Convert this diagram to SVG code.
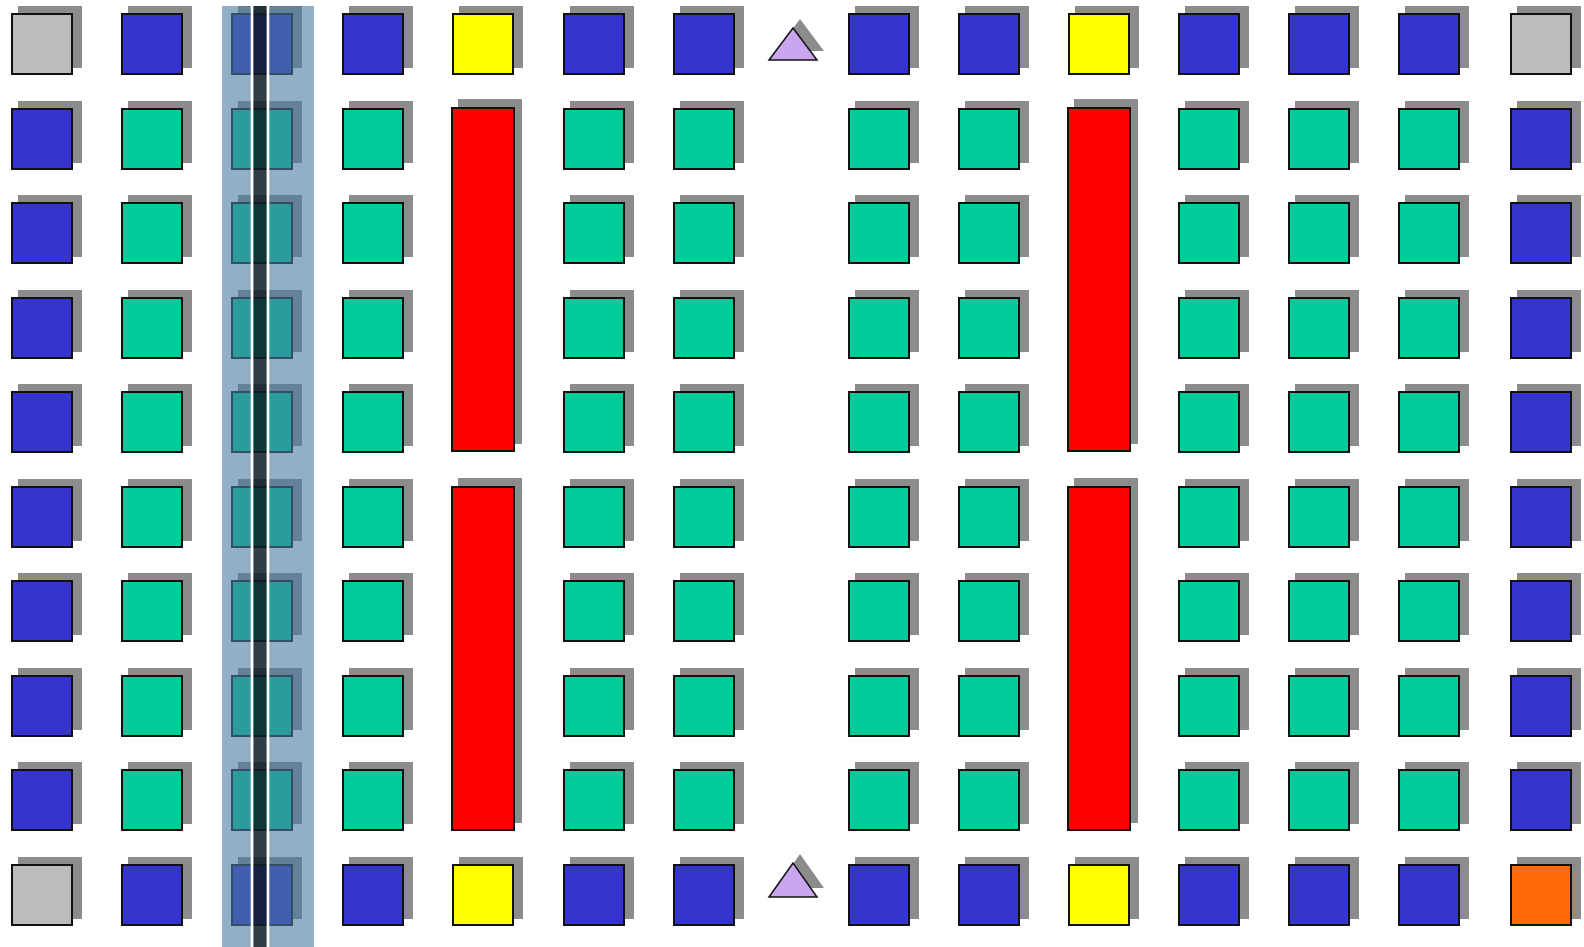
<svg xmlns="http://www.w3.org/2000/svg" xmlns:xlink="http://www.w3.org/1999/xlink" width="1584" height="947" viewBox="0 0 1584 947">
<style>
.gy{fill:#bcbcbc}.bl{fill:#3535cc}.gr{fill:#00cc99}.ye{fill:#ffff00}.rd{fill:#ff0000}.or{fill:#ff6a0a}
.shd{fill:#8c8c8c}
.tri{fill:#c9a6ef;stroke:#111;stroke-width:1.5;stroke-linejoin:miter}
</style>
<defs>
<rect id="sh" x="7" y="-7" width="64" height="62" fill="#8c8c8c"/>
<rect id="sq" x="1" y="1" width="60" height="60" stroke="#111" stroke-width="2"/>
<rect id="tsh" x="7" y="-8" width="64" height="345" fill="#8c8c8c"/>
<rect id="tall" x="1" y="1" width="62" height="343" stroke="#111" stroke-width="2"/>
</defs>
<rect width="1584" height="947" fill="#ffffff"/>
<g id="connectors"></g>
<!-- column 0 -->
<g id="c0r0" transform="translate(11,13)"><use href="#sh"/><use href="#sq" class="gy"/></g>
<g id="c0r1" transform="translate(11,108)"><use href="#sh"/><use href="#sq" class="bl"/></g>
<g id="c0r2" transform="translate(11,202)"><use href="#sh"/><use href="#sq" class="bl"/></g>
<g id="c0r3" transform="translate(11,297)"><use href="#sh"/><use href="#sq" class="bl"/></g>
<g id="c0r4" transform="translate(11,391)"><use href="#sh"/><use href="#sq" class="bl"/></g>
<g id="c0r5" transform="translate(11,486)"><use href="#sh"/><use href="#sq" class="bl"/></g>
<g id="c0r6" transform="translate(11,580)"><use href="#sh"/><use href="#sq" class="bl"/></g>
<g id="c0r7" transform="translate(11,675)"><use href="#sh"/><use href="#sq" class="bl"/></g>
<g id="c0r8" transform="translate(11,769)"><use href="#sh"/><use href="#sq" class="bl"/></g>
<g id="c0r9" transform="translate(11,864)"><use href="#sh"/><use href="#sq" class="gy"/></g>
<!-- column 1 -->
<g id="c1r0" transform="translate(121,13)"><use href="#sh"/><use href="#sq" class="bl"/></g>
<g id="c1r1" transform="translate(121,108)"><use href="#sh"/><use href="#sq" class="gr"/></g>
<g id="c1r2" transform="translate(121,202)"><use href="#sh"/><use href="#sq" class="gr"/></g>
<g id="c1r3" transform="translate(121,297)"><use href="#sh"/><use href="#sq" class="gr"/></g>
<g id="c1r4" transform="translate(121,391)"><use href="#sh"/><use href="#sq" class="gr"/></g>
<g id="c1r5" transform="translate(121,486)"><use href="#sh"/><use href="#sq" class="gr"/></g>
<g id="c1r6" transform="translate(121,580)"><use href="#sh"/><use href="#sq" class="gr"/></g>
<g id="c1r7" transform="translate(121,675)"><use href="#sh"/><use href="#sq" class="gr"/></g>
<g id="c1r8" transform="translate(121,769)"><use href="#sh"/><use href="#sq" class="gr"/></g>
<g id="c1r9" transform="translate(121,864)"><use href="#sh"/><use href="#sq" class="bl"/></g>
<!-- column 2 -->
<g id="c2r0" transform="translate(231,13)"><use href="#sh"/><use href="#sq" class="bl"/></g>
<g id="c2r1" transform="translate(231,108)"><use href="#sh"/><use href="#sq" class="gr"/></g>
<g id="c2r2" transform="translate(231,202)"><use href="#sh"/><use href="#sq" class="gr"/></g>
<g id="c2r3" transform="translate(231,297)"><use href="#sh"/><use href="#sq" class="gr"/></g>
<g id="c2r4" transform="translate(231,391)"><use href="#sh"/><use href="#sq" class="gr"/></g>
<g id="c2r5" transform="translate(231,486)"><use href="#sh"/><use href="#sq" class="gr"/></g>
<g id="c2r6" transform="translate(231,580)"><use href="#sh"/><use href="#sq" class="gr"/></g>
<g id="c2r7" transform="translate(231,675)"><use href="#sh"/><use href="#sq" class="gr"/></g>
<g id="c2r8" transform="translate(231,769)"><use href="#sh"/><use href="#sq" class="gr"/></g>
<g id="c2r9" transform="translate(231,864)"><use href="#sh"/><use href="#sq" class="bl"/></g>
<!-- column 3 -->
<g id="c3r0" transform="translate(342,13)"><use href="#sh"/><use href="#sq" class="bl"/></g>
<g id="c3r1" transform="translate(342,108)"><use href="#sh"/><use href="#sq" class="gr"/></g>
<g id="c3r2" transform="translate(342,202)"><use href="#sh"/><use href="#sq" class="gr"/></g>
<g id="c3r3" transform="translate(342,297)"><use href="#sh"/><use href="#sq" class="gr"/></g>
<g id="c3r4" transform="translate(342,391)"><use href="#sh"/><use href="#sq" class="gr"/></g>
<g id="c3r5" transform="translate(342,486)"><use href="#sh"/><use href="#sq" class="gr"/></g>
<g id="c3r6" transform="translate(342,580)"><use href="#sh"/><use href="#sq" class="gr"/></g>
<g id="c3r7" transform="translate(342,675)"><use href="#sh"/><use href="#sq" class="gr"/></g>
<g id="c3r8" transform="translate(342,769)"><use href="#sh"/><use href="#sq" class="gr"/></g>
<g id="c3r9" transform="translate(342,864)"><use href="#sh"/><use href="#sq" class="bl"/></g>
<!-- column 4 -->
<g id="c4r0" transform="translate(452,13)"><use href="#sh"/><use href="#sq" class="ye"/></g>
<g id="c4top" transform="translate(451,107)"><use href="#tsh"/><use href="#tall" class="rd"/></g>
<g id="c4bot" transform="translate(451,486)"><use href="#tsh"/><use href="#tall" class="rd"/></g>
<g id="c4r9" transform="translate(452,864)"><use href="#sh"/><use href="#sq" class="ye"/></g>
<!-- column 5 -->
<g id="c5r0" transform="translate(563,13)"><use href="#sh"/><use href="#sq" class="bl"/></g>
<g id="c5r1" transform="translate(563,108)"><use href="#sh"/><use href="#sq" class="gr"/></g>
<g id="c5r2" transform="translate(563,202)"><use href="#sh"/><use href="#sq" class="gr"/></g>
<g id="c5r3" transform="translate(563,297)"><use href="#sh"/><use href="#sq" class="gr"/></g>
<g id="c5r4" transform="translate(563,391)"><use href="#sh"/><use href="#sq" class="gr"/></g>
<g id="c5r5" transform="translate(563,486)"><use href="#sh"/><use href="#sq" class="gr"/></g>
<g id="c5r6" transform="translate(563,580)"><use href="#sh"/><use href="#sq" class="gr"/></g>
<g id="c5r7" transform="translate(563,675)"><use href="#sh"/><use href="#sq" class="gr"/></g>
<g id="c5r8" transform="translate(563,769)"><use href="#sh"/><use href="#sq" class="gr"/></g>
<g id="c5r9" transform="translate(563,864)"><use href="#sh"/><use href="#sq" class="bl"/></g>
<!-- column 6 -->
<g id="c6r0" transform="translate(673,13)"><use href="#sh"/><use href="#sq" class="bl"/></g>
<g id="c6r1" transform="translate(673,108)"><use href="#sh"/><use href="#sq" class="gr"/></g>
<g id="c6r2" transform="translate(673,202)"><use href="#sh"/><use href="#sq" class="gr"/></g>
<g id="c6r3" transform="translate(673,297)"><use href="#sh"/><use href="#sq" class="gr"/></g>
<g id="c6r4" transform="translate(673,391)"><use href="#sh"/><use href="#sq" class="gr"/></g>
<g id="c6r5" transform="translate(673,486)"><use href="#sh"/><use href="#sq" class="gr"/></g>
<g id="c6r6" transform="translate(673,580)"><use href="#sh"/><use href="#sq" class="gr"/></g>
<g id="c6r7" transform="translate(673,675)"><use href="#sh"/><use href="#sq" class="gr"/></g>
<g id="c6r8" transform="translate(673,769)"><use href="#sh"/><use href="#sq" class="gr"/></g>
<g id="c6r9" transform="translate(673,864)"><use href="#sh"/><use href="#sq" class="bl"/></g>
<!-- triangles -->
<g id="triTop"><polygon class="shd" points="776,51 800,19 824,51"/><polygon class="tri" points="769,60 793,28 817,60"/></g>
<g id="triBot"><polygon class="shd" points="776,888 800,854 824,888"/><polygon class="tri" points="769,897 793,863 817,897"/></g>
<!-- column 7 -->
<g id="c7r0" transform="translate(848,13)"><use href="#sh"/><use href="#sq" class="bl"/></g>
<g id="c7r1" transform="translate(848,108)"><use href="#sh"/><use href="#sq" class="gr"/></g>
<g id="c7r2" transform="translate(848,202)"><use href="#sh"/><use href="#sq" class="gr"/></g>
<g id="c7r3" transform="translate(848,297)"><use href="#sh"/><use href="#sq" class="gr"/></g>
<g id="c7r4" transform="translate(848,391)"><use href="#sh"/><use href="#sq" class="gr"/></g>
<g id="c7r5" transform="translate(848,486)"><use href="#sh"/><use href="#sq" class="gr"/></g>
<g id="c7r6" transform="translate(848,580)"><use href="#sh"/><use href="#sq" class="gr"/></g>
<g id="c7r7" transform="translate(848,675)"><use href="#sh"/><use href="#sq" class="gr"/></g>
<g id="c7r8" transform="translate(848,769)"><use href="#sh"/><use href="#sq" class="gr"/></g>
<g id="c7r9" transform="translate(848,864)"><use href="#sh"/><use href="#sq" class="bl"/></g>
<!-- column 8 -->
<g id="c8r0" transform="translate(958,13)"><use href="#sh"/><use href="#sq" class="bl"/></g>
<g id="c8r1" transform="translate(958,108)"><use href="#sh"/><use href="#sq" class="gr"/></g>
<g id="c8r2" transform="translate(958,202)"><use href="#sh"/><use href="#sq" class="gr"/></g>
<g id="c8r3" transform="translate(958,297)"><use href="#sh"/><use href="#sq" class="gr"/></g>
<g id="c8r4" transform="translate(958,391)"><use href="#sh"/><use href="#sq" class="gr"/></g>
<g id="c8r5" transform="translate(958,486)"><use href="#sh"/><use href="#sq" class="gr"/></g>
<g id="c8r6" transform="translate(958,580)"><use href="#sh"/><use href="#sq" class="gr"/></g>
<g id="c8r7" transform="translate(958,675)"><use href="#sh"/><use href="#sq" class="gr"/></g>
<g id="c8r8" transform="translate(958,769)"><use href="#sh"/><use href="#sq" class="gr"/></g>
<g id="c8r9" transform="translate(958,864)"><use href="#sh"/><use href="#sq" class="bl"/></g>
<!-- column 9 -->
<g id="c9r0" transform="translate(1068,13)"><use href="#sh"/><use href="#sq" class="ye"/></g>
<g id="c9top" transform="translate(1067,107)"><use href="#tsh"/><use href="#tall" class="rd"/></g>
<g id="c9bot" transform="translate(1067,486)"><use href="#tsh"/><use href="#tall" class="rd"/></g>
<g id="c9r9" transform="translate(1068,864)"><use href="#sh"/><use href="#sq" class="ye"/></g>
<!-- column 10 -->
<g id="c10r0" transform="translate(1178,13)"><use href="#sh"/><use href="#sq" class="bl"/></g>
<g id="c10r1" transform="translate(1178,108)"><use href="#sh"/><use href="#sq" class="gr"/></g>
<g id="c10r2" transform="translate(1178,202)"><use href="#sh"/><use href="#sq" class="gr"/></g>
<g id="c10r3" transform="translate(1178,297)"><use href="#sh"/><use href="#sq" class="gr"/></g>
<g id="c10r4" transform="translate(1178,391)"><use href="#sh"/><use href="#sq" class="gr"/></g>
<g id="c10r5" transform="translate(1178,486)"><use href="#sh"/><use href="#sq" class="gr"/></g>
<g id="c10r6" transform="translate(1178,580)"><use href="#sh"/><use href="#sq" class="gr"/></g>
<g id="c10r7" transform="translate(1178,675)"><use href="#sh"/><use href="#sq" class="gr"/></g>
<g id="c10r8" transform="translate(1178,769)"><use href="#sh"/><use href="#sq" class="gr"/></g>
<g id="c10r9" transform="translate(1178,864)"><use href="#sh"/><use href="#sq" class="bl"/></g>
<!-- column 11 -->
<g id="c11r0" transform="translate(1288,13)"><use href="#sh"/><use href="#sq" class="bl"/></g>
<g id="c11r1" transform="translate(1288,108)"><use href="#sh"/><use href="#sq" class="gr"/></g>
<g id="c11r2" transform="translate(1288,202)"><use href="#sh"/><use href="#sq" class="gr"/></g>
<g id="c11r3" transform="translate(1288,297)"><use href="#sh"/><use href="#sq" class="gr"/></g>
<g id="c11r4" transform="translate(1288,391)"><use href="#sh"/><use href="#sq" class="gr"/></g>
<g id="c11r5" transform="translate(1288,486)"><use href="#sh"/><use href="#sq" class="gr"/></g>
<g id="c11r6" transform="translate(1288,580)"><use href="#sh"/><use href="#sq" class="gr"/></g>
<g id="c11r7" transform="translate(1288,675)"><use href="#sh"/><use href="#sq" class="gr"/></g>
<g id="c11r8" transform="translate(1288,769)"><use href="#sh"/><use href="#sq" class="gr"/></g>
<g id="c11r9" transform="translate(1288,864)"><use href="#sh"/><use href="#sq" class="bl"/></g>
<!-- column 12 -->
<g id="c12r0" transform="translate(1398,13)"><use href="#sh"/><use href="#sq" class="bl"/></g>
<g id="c12r1" transform="translate(1398,108)"><use href="#sh"/><use href="#sq" class="gr"/></g>
<g id="c12r2" transform="translate(1398,202)"><use href="#sh"/><use href="#sq" class="gr"/></g>
<g id="c12r3" transform="translate(1398,297)"><use href="#sh"/><use href="#sq" class="gr"/></g>
<g id="c12r4" transform="translate(1398,391)"><use href="#sh"/><use href="#sq" class="gr"/></g>
<g id="c12r5" transform="translate(1398,486)"><use href="#sh"/><use href="#sq" class="gr"/></g>
<g id="c12r6" transform="translate(1398,580)"><use href="#sh"/><use href="#sq" class="gr"/></g>
<g id="c12r7" transform="translate(1398,675)"><use href="#sh"/><use href="#sq" class="gr"/></g>
<g id="c12r8" transform="translate(1398,769)"><use href="#sh"/><use href="#sq" class="gr"/></g>
<g id="c12r9" transform="translate(1398,864)"><use href="#sh"/><use href="#sq" class="bl"/></g>
<!-- column 13 -->
<g id="c13r0" transform="translate(1510,13)"><use href="#sh"/><use href="#sq" class="gy"/></g>
<g id="c13r1" transform="translate(1510,108)"><use href="#sh"/><use href="#sq" class="bl"/></g>
<g id="c13r2" transform="translate(1510,202)"><use href="#sh"/><use href="#sq" class="bl"/></g>
<g id="c13r3" transform="translate(1510,297)"><use href="#sh"/><use href="#sq" class="bl"/></g>
<g id="c13r4" transform="translate(1510,391)"><use href="#sh"/><use href="#sq" class="bl"/></g>
<g id="c13r5" transform="translate(1510,486)"><use href="#sh"/><use href="#sq" class="bl"/></g>
<g id="c13r6" transform="translate(1510,580)"><use href="#sh"/><use href="#sq" class="bl"/></g>
<g id="c13r7" transform="translate(1510,675)"><use href="#sh"/><use href="#sq" class="bl"/></g>
<g id="c13r8" transform="translate(1510,769)"><use href="#sh"/><use href="#sq" class="bl"/></g>
<g id="c13r9" transform="translate(1510,864)"><use href="#sh"/><use href="#sq" class="or"/></g>
<!-- selection band -->
<g id="selection">
<rect x="222" y="6" width="92" height="941" fill="rgb(74,121,158)" fill-opacity="0.6"/>
<rect x="253.3" y="6" width="13.4" height="941" fill="#000" fill-opacity="0.65"/>
<rect x="250.7" y="6" width="2.6" height="941" fill="#ffffff"/>
<rect x="266.7" y="6" width="2.6" height="941" fill="#ffffff"/>
</g>
</svg>
